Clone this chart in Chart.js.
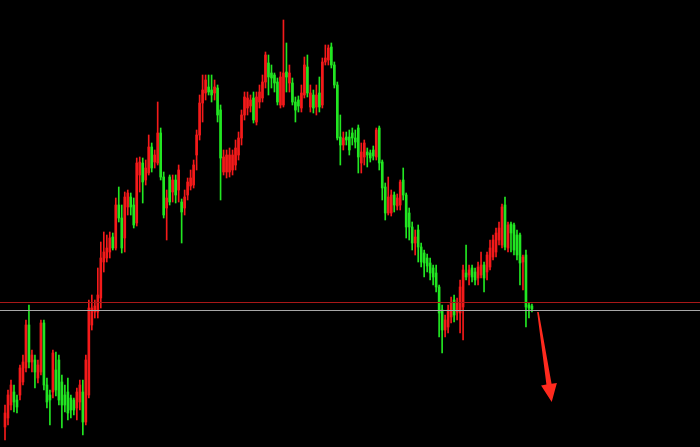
<!DOCTYPE html>
<html><head><meta charset="utf-8">
<script src="https://cdn.jsdelivr.net/npm/chart.js@4/dist/chart.umd.min.js"></script>
<style>html,body{margin:0;padding:0;background:#000;}#wrap{width:700px;height:447px;}</style>
</head><body><div id="wrap"><canvas id="c" width="700" height="447"></canvas></div>
<script>
const opens  = [20,29,42,55,47,52,65,79,122,85,87,69,75,124,62,52,55,77,87,65,52,55,49,47,39,45,55,25,52,
122,135,135,149,185,189,195,210,199,242,229,209,240,250,242,224,272,284,267,274,300,285,284,314,270,239,270,
255,267,257,245,239,252,261,262,292,312,344,354,360,357,354,359,337,275,275,275,277,282,292,309,332,339,341,349,325,345,349,365,384,
374,372,365,342,342,375,364,364,345,347,339,352,380,340,352,340,354,342,385,387,400,382,362,310,302,310,310,
314,309,319,284,290,295,294,297,290,319,285,260,234,234,252,241,242,267,252,234,220,204,217,200,194,189,184,179,174,160,137,
117,120,130,147,135,134,140,174,172,179,175,169,172,182,175,180,190,195,207,202,242,199,223,222,212,212,185,192,142,141];
const highs  = [42,57,67,62,52,82,92,127,142,97,92,87,127,127,69,57,97,95,92,72,62,69,52,49,59,67,67,92,147,
152,147,179,205,215,212,215,214,249,260,242,255,257,254,249,289,290,289,287,312,304,297,345,319,275,257,272,
272,272,282,248,257,269,277,287,317,352,372,372,372,372,367,362,342,297,297,299,297,307,315,337,355,355,352,355,355,362,372,395,392,
382,374,369,375,427,404,382,369,350,351,362,390,392,362,357,362,370,389,402,402,404,385,365,332,315,315,317,
319,317,322,304,307,299,297,301,319,321,287,264,270,257,255,253,267,279,254,239,225,217,222,204,197,193,189,182,182,162,142,
132,142,150,152,149,167,182,202,182,182,179,185,195,185,195,207,212,219,225,243,250,225,225,224,217,214,192,197,144,143];
const lows   = [7,22,37,35,34,47,62,75,79,75,59,64,72,57,39,22,49,51,42,19,35,27,29,32,27,37,12,22,49,
117,129,129,139,175,185,189,197,197,225,194,195,232,232,219,221,255,244,262,272,275,279,282,267,229,207,242,
245,244,245,204,232,247,257,259,277,307,325,347,352,345,347,325,247,272,269,270,272,277,287,302,327,332,335,324,322,339,345,359,352,
359,355,342,339,340,355,355,342,325,335,335,349,350,335,334,332,335,339,382,382,379,359,307,282,297,302,292,
302,299,274,274,282,280,285,287,287,277,247,227,232,231,235,237,237,247,209,207,197,192,185,180,170,175,167,162,155,110,94,
110,114,124,125,127,114,107,167,162,165,162,162,169,155,167,177,187,190,202,199,197,195,195,192,187,162,157,120,129,135];
const closes = [34,52,62,45,40,79,85,122,85,92,75,82,124,62,45,47,94,57,47,42,42,34,37,37,55,62,25,87,139,
139,141,152,189,195,199,209,199,242,229,199,250,254,240,222,284,285,265,279,300,279,292,314,270,232,249,245,
267,252,277,235,250,265,269,282,312,344,357,367,355,352,360,332,289,290,292,292,292,299,309,332,350,349,347,327,350,355,365,392,370,
369,364,345,370,374,370,374,345,337,341,354,382,354,354,339,352,340,385,389,399,382,362,309,302,309,307,297,
309,305,290,295,304,292,289,291,317,284,259,234,250,252,242,249,265,252,220,220,204,210,200,185,184,181,174,170,160,134,117,
127,137,144,132,144,160,177,170,177,170,167,180,182,169,192,199,207,214,219,240,200,222,214,197,192,184,190,140,139,138];
const levels = [145, 137];
const arrowFrom = {t: 178.0, p: 135};
const arrowTo   = {t: 182.6, p: 45};

const UP = '#f41a1a', DOWN = '#22e622';
const n = opens.length;
const bodies = [], wicks = [], colors = [];
for (let i = 0; i < n; i++) {
  bodies.push({x: i, y: [opens[i], closes[i]]});
  wicks.push({x: i, y: [lows[i], highs[i]]});
  colors.push(closes[i] >= opens[i] ? UP : DOWN);
}

const overlay = {
  id: 'overlay',
  beforeDraw(chart) {
    const c = chart.ctx;
    c.save(); c.fillStyle = '#000'; c.fillRect(0, 0, chart.width, chart.height); c.restore();
  },
  afterDatasetsDraw(chart) {
    const c = chart.ctx, xs = chart.scales.x, ys = chart.scales.y, a = chart.chartArea;
    c.save();
    const lc = ['#a81818', '#a8a8a8'];
    levels.forEach((lv, k) => {
      const y = Math.round(ys.getPixelForValue(lv)) + 0.5;
      c.strokeStyle = lc[k]; c.lineWidth = 1;
      c.beginPath(); c.moveTo(a.left, y); c.lineTo(a.right, y); c.stroke();
    });
    const x1 = xs.getPixelForValue(arrowFrom.t), y1 = ys.getPixelForValue(arrowFrom.p);
    const x2 = xs.getPixelForValue(arrowTo.t), y2 = ys.getPixelForValue(arrowTo.p);
    const ang = Math.atan2(y2 - y1, x2 - x1);
    const headLen = 18, headW = 8, shaftW = 2.6;
    const bx = x2 - headLen * Math.cos(ang), by = y2 - headLen * Math.sin(ang);
    const px = -Math.sin(ang), py = Math.cos(ang);
    c.fillStyle = '#ff2a1e';
    c.beginPath();
    c.moveTo(x1 + px * 0.8, y1 + py * 0.8);
    c.lineTo(bx + px * shaftW, by + py * shaftW);
    c.lineTo(bx + px * headW, by + py * headW);
    c.lineTo(x2, y2);
    c.lineTo(bx - px * headW, by - py * headW);
    c.lineTo(bx - px * shaftW, by - py * shaftW);
    c.lineTo(x1 - px * 0.8, y1 - py * 0.8);
    c.closePath(); c.fill();
    c.restore();
  }
};

new Chart(document.getElementById('c'), {
  type: 'bar',
  data: {
    datasets: [
      {data: wicks, backgroundColor: colors, barThickness: 1, grouped: false, order: 2, borderSkipped: false},
      {data: bodies, backgroundColor: colors, barThickness: 2, grouped: false, order: 1, minBarLength: 1, borderSkipped: false}
    ]
  },
  options: {
    responsive: false, animation: false, maintainAspectRatio: false,
    layout: {padding: 0},
    plugins: {legend: {display: false}, tooltip: {enabled: false}},
    scales: {
      x: {type: 'linear', min: -1.67, max: 232.13, display: false, offset: false},
      y: {type: 'linear', min: 0, max: 447, display: false}
    }
  },
  plugins: [overlay]
});
</script></body></html>
